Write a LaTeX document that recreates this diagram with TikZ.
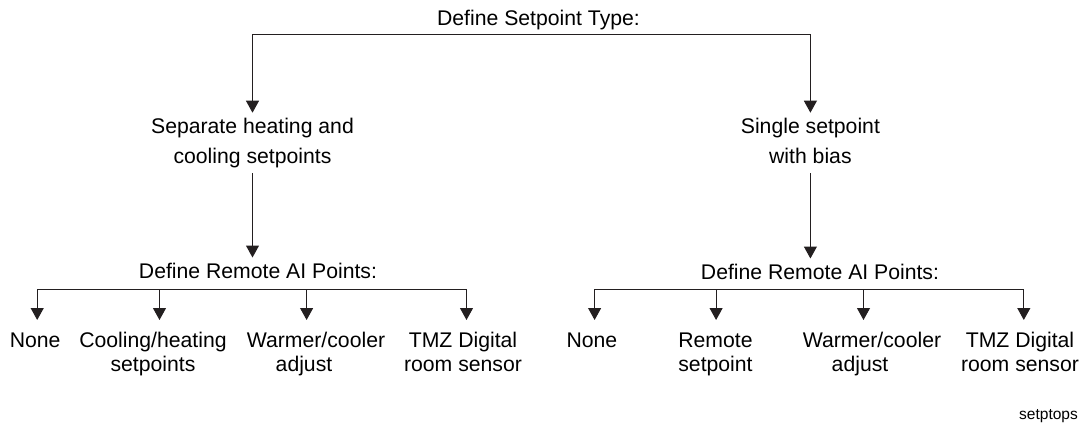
\documentclass[tikz,border=0pt]{standalone}
\usepackage{fontspec}
\setmainfont{Liberation Sans}
\usetikzlibrary{arrows.meta}
\definecolor{ink}{RGB}{35,31,32}
\begin{document}
\begin{tikzpicture}[x=1pt,y=-1pt,
  every node/.style={inner sep=0pt, text=black},
  headline/.style={font=\fontsize{21.2}{25}\selectfont, outer ysep=4.6pt},
  choice/.style={align=center, font=\fontsize{21.2}{30}\selectfont, outer ysep=5.4pt},
  subhead/.style={font=\fontsize{21.2}{25}\selectfont, outer ysep=5.4pt},
  leaf/.style={align=center, font=\fontsize{21.2}{24}\selectfont, outer ysep=12.6pt},
  wire/.style={draw=ink, line width=1pt, line cap=rect},
  feed/.style={draw=ink, line width=1pt, -{Triangle[length=12pt,width=13pt]}},
]
\useasboundingbox (0,0) rectangle (1089,423);

% top question and the two setpoint types
\node[headline, anchor=base] (T) at (538.5,25.2) {Define Setpoint Type:};
\node[choice, anchor=north] (A) at (252.5,112.7) {Separate heating and\\cooling setpoints};
\node[choice, anchor=north] (B) at (810.4,112.7) {Single setpoint\\with bias\vphantom{g}};

\draw[wire] (A.north |- T.south) -- (B.north |- T.south);
\draw[feed] (A.north |- T.south) -- (A.north);
\draw[feed] (B.north |- T.south) -- (B.north);

% remote AI point questions
\node[subhead, anchor=north] (RL) at (258,257.5) {Define Remote AI Points:};
\node[subhead, anchor=north] (RR) at (820,258.5) {Define Remote AI Points:};

\draw[feed] (A.south) -- (A.south |- RL.north);
\draw[feed] (B.south) -- (B.south |- RR.north);

% options, left branch
\node[leaf, anchor=north] (L1) at (35.1,320) {None};
\node[leaf, anchor=north] (L2) at (153,320) {Cooling/heating\\setpoints};
\node[leaf, anchor=north] (L3) at (316,320) {Warmer/cooler\\adjust\rule{24pt}{0pt}};
\node[leaf, anchor=north] (L4) at (463,320) {TMZ Digital\\room sensor};

% options, right branch
\node[leaf, anchor=north] (R1) at (591.9,320) {None};
\node[leaf, anchor=north] (R2) at (715.5,320) {Remote\\setpoint};
\node[leaf, anchor=north] (R3) at (872,320) {Warmer/cooler\\adjust\rule{24pt}{0pt}};
\node[leaf, anchor=north] (R4) at (1020,320) {TMZ Digital\\room sensor};

% branch points on the distribution bars
\coordinate (bl1) at (37.2,289.5);
\coordinate (bl2) at (159.5,289.5);
\coordinate (bl3) at (306.6,289.5);
\coordinate (bl4) at (466.5,289.5);
\coordinate (br1) at (594.6,289.5);
\coordinate (br2) at (716.1,289.5);
\coordinate (br3) at (863.5,289.5);
\coordinate (br4) at (1023.8,289.5);

\draw[wire] (bl1) -- (bl4);
\draw[wire] (br1) -- (br4);
\foreach \i in {1,...,4} {
  \draw[feed] (bl\i) -- (bl\i |- L\i.north);
  \draw[feed] (br\i) -- (br\i |- R\i.north);
}

% figure tag
\node[anchor=base west, font=\fontsize{15.5}{18}\selectfont] (tag) at (1019,419.5) {setptops};
\end{tikzpicture}
\end{document}
